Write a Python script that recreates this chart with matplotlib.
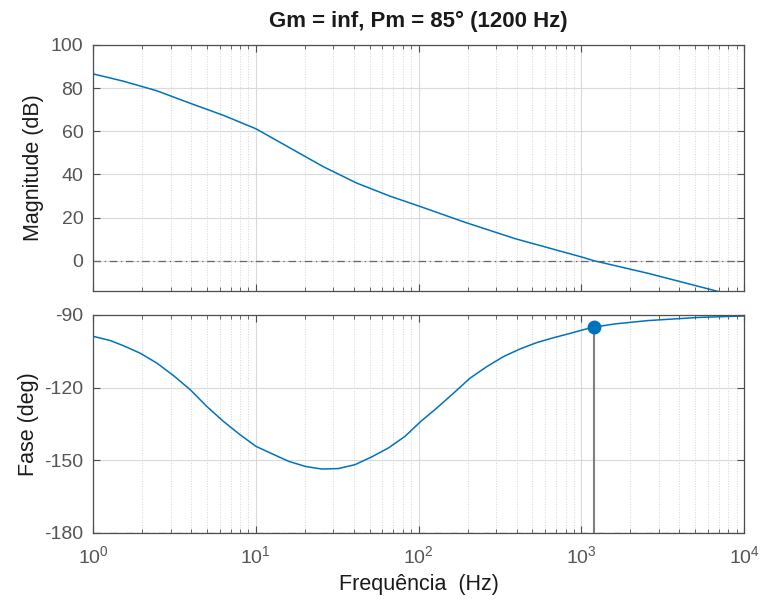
import matplotlib
matplotlib.use("Agg")
import matplotlib.pyplot as plt
from matplotlib.ticker import LogLocator, NullFormatter, FixedLocator

plt.rcParams['font.family'] = ['Liberation Sans', 'DejaVu Sans']
plt.rcParams['mathtext.fontset'] = 'custom'
plt.rcParams['mathtext.rm'] = 'Liberation Sans'
plt.rcParams['mathtext.it'] = 'Liberation Sans'
plt.rcParams['axes.unicode_minus'] = False

# Magnitude curve (Hz, dB)
mag_freq = [1, 1.54, 2.46, 3.95, 6.32, 10, 16.3, 26, 41.7, 66.5, 102, 190,
            390, 1000, 1200, 2570, 6600, 10000]
mag_db = [86.6, 83.2, 78.8, 73.0, 67.4, 61.2, 52.2, 43.6, 36.0, 30.0, 25.2,
          18.0, 10.3, 1.8, 0.0, -5.8, -13.8, -17.3]

# Phase curve (Hz, deg)
ph_freq = [1, 1.27, 1.54, 1.94, 2.46, 3.12, 3.95, 4.99, 6.32, 8.0, 10, 12.5,
           15.9, 20.1, 25.4, 32.2, 40.7, 51.5, 65.3, 82.6, 103, 129, 164,
           207, 263, 332, 421, 532, 674, 853, 1080, 1200, 1600, 2570, 5250,
           10000]
ph_deg = [-98.8, -100.5, -102.7, -105.7, -109.8, -115.0, -120.8, -127.7,
          -133.9, -139.4, -144.2, -147.2, -150.4, -152.5, -153.6, -153.4,
          -151.8, -148.6, -144.9, -140.1, -134.0, -128.5, -122.3, -116.1,
          -111.3, -107.2, -104.0, -101.4, -99.4, -97.6, -95.7, -95.0, -93.7,
          -92.3, -91.0, -90.4]

# Phase margin point
wc = 1200
pm_phase = -95.0
title = "Gm = inf, Pm = 85° (1200 Hz)"

blue = "#0072BD"
tick_col = "#555555"
spine_col = "#4d4d4d"

fig = plt.figure(figsize=(7.65, 6.06), dpi=100)
ax1 = fig.add_axes([0.1216, 0.5198, 0.851, 0.406])
ax2 = fig.add_axes([0.1216, 0.1205, 0.851, 0.3597])

for ax in (ax1, ax2):
    ax.set_xscale('log')
    ax.set_xlim(1, 1e4)
    ax.xaxis.set_major_locator(LogLocator(base=10, numticks=10))
    ax.xaxis.set_minor_locator(LogLocator(base=10, subs=range(2, 10), numticks=50))
    ax.xaxis.set_minor_formatter(NullFormatter())
    ax.grid(True, which='major', color='#d9d9d9', lw=0.8, ls='-')
    ax.grid(True, which='minor', axis='x', color='#d4d4d4', lw=0.7, ls=':')
    ax.set_axisbelow(True)
    ax.tick_params(which='both', direction='in', top=True, right=True,
                   colors=spine_col, labelcolor=tick_col, labelsize=14)
    ax.tick_params(which='major', length=5, width=0.8)
    ax.tick_params(which='minor', length=3, width=0.6)
    for s in ax.spines.values():
        s.set_color(spine_col)
        s.set_linewidth(0.9)

# magnitude
ax1.plot(mag_freq, mag_db, color=blue, lw=1.1)
ax1.axhline(0, color='#666666', lw=0.9, ls='-.', dashes=(6, 3, 1, 3))
ax1.set_ylim(-14, 100)
ax1.yaxis.set_major_locator(FixedLocator([0, 20, 40, 60, 80, 100]))
ax1.tick_params(axis='x', which='both', labelbottom=False)
ax1.tick_params(axis='y', pad=7)
ax1.set_ylabel("Magnitude (dB)", fontsize=15.5, color='#1a1a1a', labelpad=5)
ax1.set_title(title, fontsize=16, fontweight='bold', color='#1a1a1a', pad=13)

# phase
ax2.plot(ph_freq, ph_deg, color=blue, lw=1.1)
ax2.axhline(-180, color='#666666', lw=0.9, ls='-.', dashes=(6, 3, 1, 3))
ax2.plot([wc, wc], [-180, pm_phase], color='#7f7f7f', lw=1.5)
ax2.plot([wc], [pm_phase], 'o', color=blue, ms=9)
ax2.set_ylim(-180, -90)
ax2.yaxis.set_major_locator(FixedLocator([-180, -150, -120, -90]))
ax2.tick_params(axis='y', pad=7)
ax2.tick_params(axis='x', pad=9)
ax2.set_ylabel("Fase (deg)", fontsize=15.5, color='#1a1a1a', labelpad=4)
ax2.set_xlabel("Frequência  (Hz)", fontsize=15.5, color='#1a1a1a', labelpad=5)

fig.savefig("out.png", dpi=100)
